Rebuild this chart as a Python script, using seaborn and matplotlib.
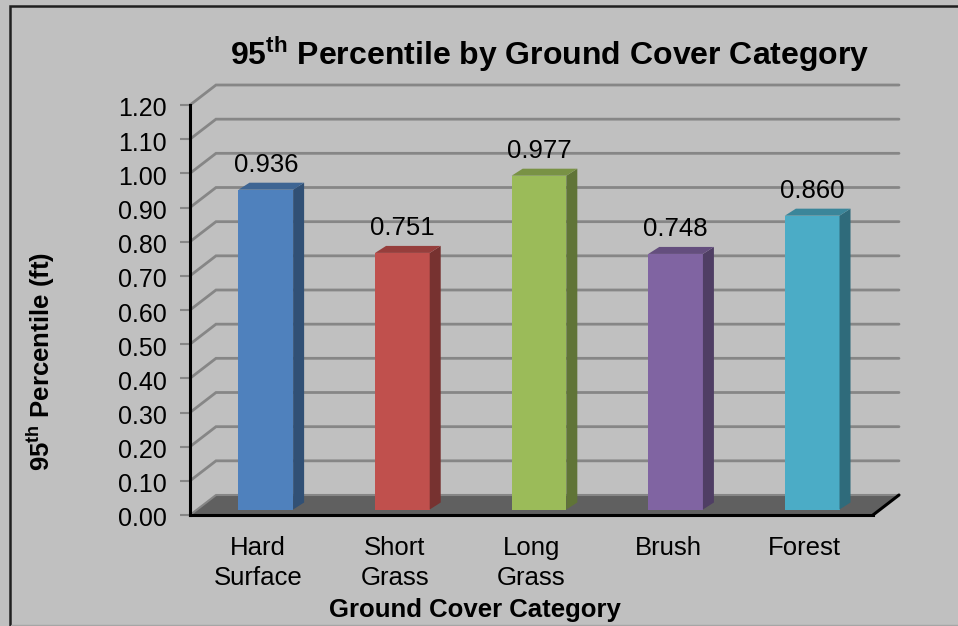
import matplotlib
matplotlib.use("Agg")
import matplotlib.pyplot as plt
import pandas as pd
import seaborn as sns
from matplotlib.colors import to_rgb
from matplotlib.lines import Line2D
from matplotlib.patches import Polygon, Rectangle
from matplotlib.transforms import ScaledTranslation

# values
categories = ['Hard\nSurface', 'Short\nGrass', 'Long\nGrass', 'Brush', 'Forest']
percentile_95 = [0.936, 0.751, 0.977, 0.748, 0.860]
bar_colors = ['#4F81BD', '#C0504D', '#9BBB59', '#8064A2', '#4BACC6']
y_ticks = [0.0, 0.1, 0.2, 0.3, 0.4, 0.5, 0.6, 0.7, 0.8, 0.9, 1.0, 1.1, 1.2]

W, H = 958, 626
BG = '#C0C0C0'
GRID = '#868686'
FLOOR = '#606060'

sns.set_theme(style="white")
plt.rcParams['font.family'] = ['Liberation Sans', 'DejaVu Sans']
plt.rcParams['mathtext.fontset'] = 'custom'
plt.rcParams['mathtext.rm'] = 'Liberation Sans'
plt.rcParams['mathtext.bf'] = 'Liberation Sans:bold'

data = pd.DataFrame({'category': categories, 'value': percentile_95})

fig = plt.figure(figsize=(W / 100, H / 100), dpi=100, facecolor=BG)


def axes_at(left, right, bottom, top):
    # pixel box (from top-left of the image) to figure fractions
    return fig.add_axes([left / W, 1 - bottom / H, (right - left) / W, (bottom - top) / H])


# outer frame of the picture
fig.add_artist(Rectangle((9.5 / W, -0.01), 1.1, 1.01 - 6 / H, transform=fig.transFigure,
                         fill=False, edgecolor='#202020', linewidth=1.8))
fig.add_artist(Line2D([11 / W, 1], [0.7 / H, 0.7 / H], transform=fig.transFigure,
                      color='#A6A6A6', linewidth=1))

# front plane of the fake 3D box
ax = axes_at(190, 873, 515, 105)
ax.set_facecolor('none')
ax.set_xlim(-0.5, 4.5)
ax.set_ylim(0, 1.2)

depth_x = 26 / (683 / 5)
depth_y = 20 / (410 / 1.2)

ax.add_patch(Polygon([(-0.5, 0), (4.5, 0), (4.5 + depth_x, depth_y), (-0.5 + depth_x, depth_y)],
                     closed=True, facecolor=FLOOR, edgecolor='none', clip_on=False, zorder=1))
for t in y_ticks[1:]:
    ax.plot([-0.5, -0.5 + depth_x, 4.5 + depth_x], [t, t + depth_y, t + depth_y],
            color=GRID, linewidth=2, clip_on=False, zorder=1, solid_joinstyle='miter')
ax.plot([4.5, 4.5 + depth_x], [0, depth_y], color='black', linewidth=2.2, clip_on=False, zorder=2)
ax.plot([-0.5, -0.5 + depth_x, 4.5 + depth_x], [0, depth_y, depth_y],
        color=GRID, linewidth=1.5, clip_on=False, zorder=1)

sns.despine(ax=ax)
for side in ['left', 'bottom']:
    ax.spines[side].set_color('black')
    ax.spines[side].set_linewidth(2.2)

ax.set_xticks(range(len(categories)))
ax.set_xticklabels(categories, fontsize=18.5, color='black', linespacing=1.32)
ax.set_yticks(y_ticks)
ax.set_yticklabels([f'{t:.2f}' for t in y_ticks], fontsize=18, color='black')
ax.tick_params(axis='x', length=0, pad=15)
ax.tick_params(axis='y', length=7, width=1.5, color=GRID, pad=10, left=True)

# tick labels sit a touch below their ticks in the original
nudge = ScaledTranslation(0, -2 / 100, fig.dpi_scale_trans)
for label in ax.get_yticklabels():
    label.set_transform(label.get_transform() + nudge)

ax.set_xlabel('Ground Cover Category', fontsize=18.5, fontweight='bold', color='black')
ax.xaxis.set_label_coords((475 - 190) / 683, (515 - 598) / 410)
ax.set_ylabel(r'95$^{\mathbf{th}}$ Percentile (ft)', fontsize=18.5, fontweight='bold', color='black')
ax.yaxis.set_label_coords((57 - 190) / 683, (515 - 361) / 410)

# bars sit a little inside the box, so they get their own shifted axes
ax2 = axes_at(197.5, 880.5, 509.5, 99.5)
ax2.patch.set_alpha(0)
sns.barplot(data=data, x='category', y='value', hue='category', palette=bar_colors,
            width=0.4, saturation=1, legend=False, linewidth=0, ax=ax2, zorder=3)
ax2.set_xlim(-0.5, 4.5)
ax2.set_ylim(0, 1.2)
ax2.axis('off')

side_x = 11 / (683 / 5)
side_y = 7 / (410 / 1.2)
for bar, color in zip(ax2.patches, bar_colors):
    x0, x1, h = bar.get_x(), bar.get_x() + bar.get_width(), bar.get_height()
    rgb = to_rgb(color)
    side = tuple(c * 0.62 for c in rgb)
    top = tuple(c * 0.78 for c in rgb)
    ax2.add_patch(Polygon([(x1, 0), (x1 + side_x, side_y), (x1 + side_x, h + side_y), (x1, h)],
                          closed=True, facecolor=side, edgecolor='none', clip_on=False, zorder=3))
    ax2.add_patch(Polygon([(x0, h), (x0 + side_x, h + side_y), (x1 + side_x, h + side_y), (x1, h)],
                          closed=True, facecolor=top, edgecolor='none', clip_on=False, zorder=3))

for container in ax2.containers:
    ax2.bar_label(container, fmt='%.3f', padding=9, fontsize=18.5, color='black', zorder=4)

fig.text(550 / W, 1 - 54 / H, r'95$^{\mathbf{th}}$ Percentile by Ground Cover Category',
         ha='center', va='center', fontsize=23, fontweight='bold', color='black')

fig.savefig('out.png', dpi=100, facecolor=BG)
